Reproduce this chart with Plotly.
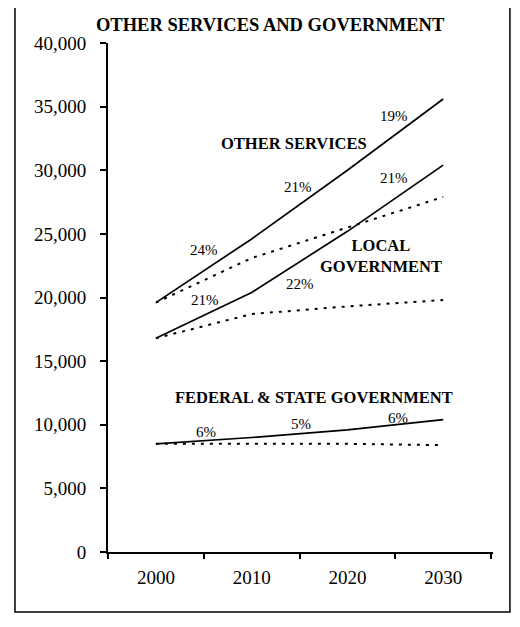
"""Projected employment: other services and government (baseline vs. projection)."""

import plotly.graph_objects as go

years = [2000, 2010, 2020, 2030]

other_services = [19600, 24600, 30000, 35600]
other_services_base = [19600, 23100, 25500, 27900]
local_gov = [16800, 20400, 25200, 30400]
local_gov_base = [16800, 18700, 19300, 19800]
fed_state_gov = [8500, 9000, 9600, 10400]
fed_state_gov_base = [8500, 8500, 8500, 8400]

y_ticks = [0, 5000, 10000, 15000, 20000, 25000, 30000, 35000, 40000]

# (text, year, value, bold)
labels = [
    ("19%", 2024.9, 34300, False),
    ("OTHER SERVICES", 2014.4, 32100, True),
    ("21%", 2014.8, 28700, False),
    ("21%", 2024.9, 29400, False),
    ("24%", 2005.0, 23700, False),
    ("LOCAL<br>GOVERNMENT", 2023.5, 23300, True),
    ("22%", 2015.0, 21100, False),
    ("21%", 2005.1, 19800, False),
    ("FEDERAL &amp; STATE GOVERNMENT", 2016.5, 12150, True),
    ("6%", 2005.2, 9450, False),
    ("5%", 2015.2, 10050, False),
    ("6%", 2025.3, 10550, False),
]

SERIF = "Liberation Serif"

fig = go.Figure()

for solid, base in [
    (other_services, other_services_base),
    (local_gov, local_gov_base),
    (fed_state_gov, fed_state_gov_base),
]:
    fig.add_trace(go.Scatter(
        x=years, y=base, mode="lines",
        line=dict(color="black", width=2, dash="3px,6px"),
        showlegend=False, hoverinfo="skip",
    ))
    fig.add_trace(go.Scatter(
        x=years, y=solid, mode="lines",
        line=dict(color="black", width=1.7),
        showlegend=False,
    ))

for text, x, y, bold in labels:
    fig.add_annotation(
        x=x, y=y, text=f"<b>{text}</b>" if bold else text,
        showarrow=False, xanchor="center", yanchor="middle",
        font=dict(family=SERIF, size=16.5 if bold else 15, color="black"),
    )

# scanned-page border around the whole chart
fig.add_shape(
    type="rect", xref="paper", yref="paper",
    x0=-0.2416, x1=1.044, y0=-0.118, y1=1.0786,
    line=dict(color="black", width=1.5),
)

# the page body adds an 8px offset, so the figure is sized to fit inside it
fig.update_layout(
    width=512, height=619,
    margin=dict(l=100, r=27, t=35, b=75),
    paper_bgcolor="white", plot_bgcolor="white",
    title=dict(
        text="<b>OTHER SERVICES AND GOVERNMENT</b>",
        x=0.512, xref="container", xanchor="center",
        y=0.974, yanchor="middle",
        font=dict(family=SERIF, size=18.5, color="black"),
    ),
    font=dict(family=SERIF, color="black"),
    showlegend=False,
)

fig.update_xaxes(
    range=[1995, 2035.2],
    tickvals=years, ticktext=[str(y) for y in years],
    ticks="", showgrid=False, zeroline=False,
    showline=True, linecolor="black", linewidth=2,
    tickfont=dict(family=SERIF, size=19, color="black"),
    ticklabelstandoff=7,
    minor=dict(ticks="outside", tick0=2005, dtick=10, ticklen=5,
               tickcolor="black", tickwidth=2, showgrid=False),
)
fig.update_yaxes(
    range=[0, 40000],
    tickvals=y_ticks, tickformat=",",
    ticks="outside", ticklen=6, tickcolor="black", tickwidth=2,
    showgrid=False, zeroline=False,
    showline=True, linecolor="black", linewidth=2,
    tickfont=dict(family=SERIF, size=19, color="black"),
    ticklabelstandoff=10,
)

fig.write_html("out.html")
